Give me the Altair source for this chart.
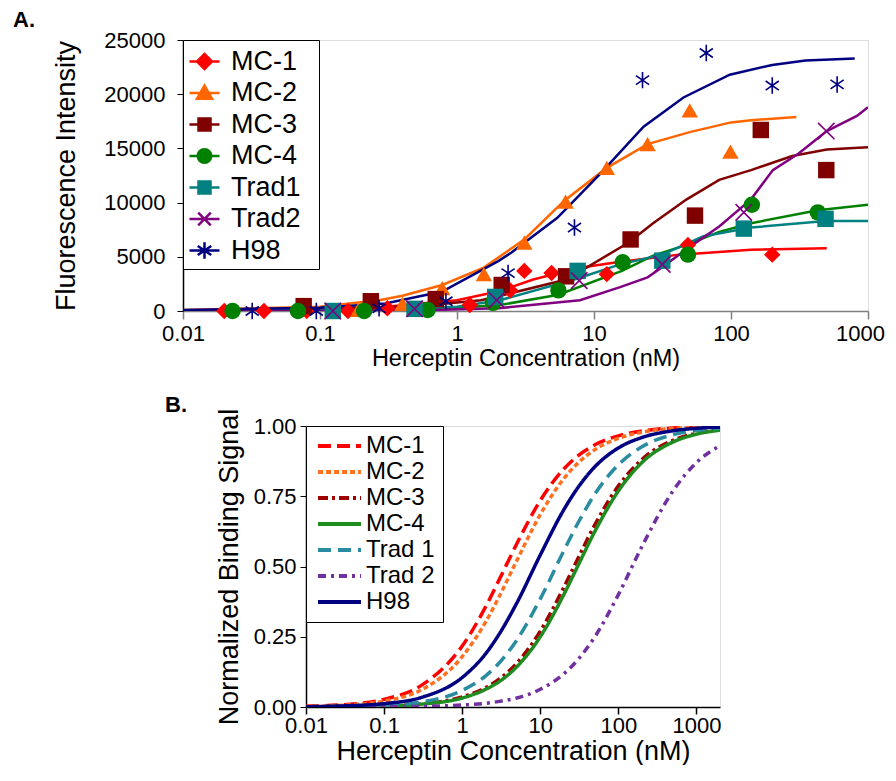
import altair as alt
import pandas as pd

FONT = "Liberation Sans"

# ---------------- Panel A data ----------------
series_a = ["MC-1", "MC-2", "MC-3", "MC-4", "Trad1", "Trad2", "H98"]
colors_a = ["#FF0000", "#FF6600", "#800000", "#008000", "#008080", "#800080", "#000080"]

mc1_x = [0.02, 0.039, 0.08, 0.16, 0.31, 1.24, 2.45, 3.1, 4.9, 12.4, 48.5, 200]
mc1_y = [0, 0, 0, 0, 250, 550, 1900, 3700, 3500, 3400, 6100, 5200]
mc2_x = [0.19, 0.40, 0.78, 1.57, 3.1, 6.2, 12.4, 24.6, 50, 99]
mc2_y = [100, 650, 2100, 3400, 6300, 10100, 13200, 15400, 18500, 14700]
mc3_x = [0.076, 0.235, 0.70, 2.12, 6.25, 18.5, 54.6, 165, 496]
mc3_y = [450, 900, 1100, 2400, 3200, 6600, 8800, 16700, 13000]
mc4_x = [0.023, 0.069, 0.21, 0.61, 1.83, 5.5, 16.2, 48.5, 142, 430]
mc4_y = [0, 0, 0, 100, 750, 1900, 4500, 5200, 9800, 9100]
t1_x = [0.124, 0.49, 1.9, 7.6, 31.5, 124, 490]
t1_y = [0, 200, 1300, 3700, 4650, 7600, 8500]
t2_x = [0.124, 0.49, 1.95, 7.8, 31.5, 124, 496]
t2_y = [0, 200, 1000, 2800, 4300, 9100, 16600]
h98_x = [0.032, 0.094, 0.27, 0.83, 2.36, 7.2, 22.6, 66, 200, 595]
h98_y = [0, 0, 250, 900, 3500, 7700, 21300, 23800, 20800, 20900]

# fitted curves of panel A
mc1_fx = [0.01, 0.1, 0.3, 1, 2.06, 3.6, 7.9, 14.7, 42, 140, 500]
mc1_fy = [50, 150, 400, 1000, 1850, 2900, 4000, 4500, 5200, 5650, 5800]
mc2_fx = [0.01, 0.1, 0.27, 0.4, 0.78, 1.57, 3.1, 6.1, 12.4, 24.6, 50, 100, 140, 300]
mc2_fy = [100, 400, 1000, 1400, 2400, 4000, 6600, 10200, 13200, 15400, 16500, 17400, 17600, 17900]
mc3_fx = [0.01, 0.1, 0.3, 0.7, 1.5, 2.06, 6.3, 17.8, 27, 47.5, 82, 140, 280, 500, 1000]
mc3_fy = [50, 150, 350, 600, 1000, 1400, 2900, 6300, 8100, 10300, 12100, 13000, 14300, 14900, 15100]
mc4_fx = [0.01, 0.3, 1, 2.06, 5.5, 16, 27, 47.5, 82, 140, 430, 1000]
mc4_fy = [0, 100, 300, 550, 1500, 3700, 5100, 6100, 7300, 8100, 9300, 9800]
t1_fx = [0.01, 0.3, 1, 2.06, 7.6, 15.5, 31.5, 63, 140, 490, 1000]
t1_fy = [0, 100, 400, 1000, 3000, 4300, 5200, 6900, 7700, 8300, 8300]
t2_fx = [0.01, 0.5, 2, 7.9, 15.5, 24.6, 32, 48.5, 82, 140, 202, 310, 500, 830, 1000]
t2_fy = [0, 50, 250, 1000, 2200, 3100, 4100, 5800, 7800, 10300, 13000, 14500, 16600, 18000, 18800]
h98_fx = [0.01, 0.1, 0.3, 0.78, 2, 2.5, 5.4, 11, 23, 45, 98, 200, 350, 800]
h98_fy = [100, 300, 700, 1800, 4600, 5400, 8600, 12600, 17000, 19700, 21800, 22700, 23100, 23300]

# ---------------- Panel B data ----------------
series_b = ["MC-1", "MC-2", "MC-3", "MC-4", "Trad 1", "Trad 2", "H98"]
colors_b = ["#FF0000", "#FF7020", "#A00000", "#1E8C1E", "#2A8CA0", "#7030A0", "#000080"]
dashes_b = [[13, 6], [5, 3], [10, 4, 3, 4], [1, 0], [13, 7], [8, 5, 3, 5], [1, 0]]

conc_b = [0.01, 0.03, 0.1, 0.3, 1, 2, 3, 5, 10, 20, 30, 50, 100, 200, 500, 1000, 2000]
b_mc1 = [0.003, 0.008, 0.027, 0.077, 0.217, 0.357, 0.455, 0.581, 0.735, 0.847, 0.893, 0.933, 0.965, 0.982, 0.993, 0.996, 0.998]
b_mc2 = [0.002, 0.006, 0.021, 0.061, 0.179, 0.303, 0.395, 0.521, 0.685, 0.813, 0.867, 0.916, 0.956, 0.978, 0.991, 0.995, 0.998]
b_mc3 = [0.000, 0.001, 0.004, 0.011, 0.036, 0.069, 0.100, 0.156, 0.270, 0.426, 0.526, 0.649, 0.787, 0.881, 0.949, 0.974, 0.987]
b_mc4 = [0.000, 0.001, 0.003, 0.010, 0.032, 0.063, 0.091, 0.143, 0.250, 0.400, 0.500, 0.625, 0.769, 0.870, 0.943, 0.971, 0.985]
b_t1 = [0.001, 0.002, 0.006, 0.018, 0.059, 0.111, 0.158, 0.238, 0.385, 0.556, 0.652, 0.758, 0.862, 0.926, 0.969, 0.984, 0.992]
b_t2 = [0.000, 0.000, 0.001, 0.002, 0.007, 0.013, 0.020, 0.032, 0.063, 0.118, 0.167, 0.250, 0.400, 0.571, 0.769, 0.870, 0.930]
b_h98 = [0.001, 0.004, 0.012, 0.034, 0.105, 0.190, 0.261, 0.370, 0.541, 0.702, 0.779, 0.855, 0.922, 0.959, 0.983, 0.992, 0.996]

ticks_x = [0.01, 0.1, 1, 10, 100, 1000]
panel_labels = ["A.", "B."]

# ---------------- tables ----------------
pts = [(mc1_x, mc1_y), (mc2_x, mc2_y), (mc3_x, mc3_y), (mc4_x, mc4_y),
       (t1_x, t1_y), (t2_x, t2_y), (h98_x, h98_y)]
fits = [(mc1_fx, mc1_fy), (mc2_fx, mc2_fy), (mc3_fx, mc3_fy), (mc4_fx, mc4_fy),
        (t1_fx, t1_fy), (t2_fx, t2_fy), (h98_fx, h98_fy)]
rows_p, rows_f = [], []
for s, (xs, ys) in zip(series_a, pts):
    rows_p += [{"conc": x, "val": y, "series": s} for x, y in zip(xs, ys)]
for s, (xs, ys) in zip(series_a, fits):
    rows_f += [{"conc": x, "val": y, "series": s} for x, y in zip(xs, ys)]
df_p = pd.DataFrame(rows_p)
df_f = pd.DataFrame(rows_f)

rows_b = []
for s, ys in zip(series_b, [b_mc1, b_mc2, b_mc3, b_mc4, b_t1, b_t2, b_h98]):
    rows_b += [{"conc": x, "sig": y, "sb": s} for x, y in zip(conc_b, ys)]
df_b = pd.DataFrame(rows_b)

# ---------------- shapes ----------------
X_PATH = "M-1,-1L1,1M-1,1L1,-1"
AST_PATH = "M0,-1V1M-0.8,-0.55L0.8,0.55M-0.8,0.55L0.8,-0.55"
shapes_a = ["diamond", "triangle-up", "square", "circle", "square", X_PATH, AST_PATH]
# legend symbols: a short line with the marker on it
leg_paths = [
    "M-1,0H1M0,-0.5L0.5,0L0,0.5L-0.5,0Z",
    "M-1,0H1M0,-0.5L0.5,0.38L-0.5,0.38Z",
    "M-1,0H1M-0.4,-0.4H0.4V0.4H-0.4Z",
    "M-1,0H1M0.45,0A0.45,0.45 0 1,1 -0.45,0A0.45,0.45 0 1,1 0.45,0Z",
    "M-1,0H1M-0.4,-0.4H0.4V0.4H-0.4Z",
    "M-1,0H1M-0.42,-0.42L0.42,0.42M-0.42,0.42L0.42,-0.42",
    "M-1,0H1M0,-0.55V0.55M-0.45,-0.3L0.45,0.3M-0.45,0.3L0.45,-0.3",
]


def build(cond_offset):
    extra = {}
    if cond_offset:
        extra["labelOffset"] = {"condition": {"test": "datum.value >= 1000", "value": -8}, "value": 0}
    xA = alt.X("conc:Q", scale=alt.Scale(type="log", domain=[0.01, 1000]),
               axis=alt.Axis(title="Herceptin Concentration (nM)", values=ticks_x,
                             labelExpr="format(datum.value, '~g')", grid=False,
                             tickSize=8, tickColor="#808080", domainColor="#808080",
                             domainWidth=1.5, tickWidth=1.5, labelFontSize=22, labelFont=FONT,
                             labelColor="black", labelPadding=4, titleFontSize=23.5,
                             titleFont=FONT, titleFontWeight="normal", titleColor="black",
                             titlePadding=2, labelFlush=False, labelOverlap=False, **extra))
    yA = alt.Y("val:Q", scale=alt.Scale(domain=[0, 25000], nice=False),
               axis=alt.Axis(title="Fluorescence Intensity", values=[0, 5000, 10000, 15000, 20000, 25000],
                             format="d", grid=False, tickSize=6, tickColor="black",
                             domainColor="black", domainWidth=1.5, labelFontSize=22,
                             labelFont=FONT, labelColor="black", labelPadding=12,
                             titleFontSize=27, titleFont=FONT, titleFontWeight="normal",
                             titleColor="black", titlePadding=23))
    legA = alt.Legend(title="x", titleOrient="right", titleColor="transparent", titleFontSize=22,
                      titlePadding=0, orient="top-left", offset=0, padding=5, strokeColor="black",
                      fillColor="white", labelFontSize=27, labelFont=FONT, labelColor="black",
                      symbolSize=900, rowPadding=1.5, labelOffset=10, symbolStrokeWidth=2.5)

    colA = alt.Color("series:N", scale=alt.Scale(domain=series_a, range=colors_a), legend=None)
    shpA = alt.Shape("series:N", scale=alt.Scale(domain=series_a, range=shapes_a), legend=None)

    lines = alt.Chart(df_f).mark_line(strokeWidth=2.5, clip=True).encode(
        x=xA, y=yA, color=colA, detail="series:N")
    filled = alt.Chart(df_p).transform_filter(
        alt.FieldOneOfPredicate(field="series", oneOf=series_a[:5])
    ).mark_point(filled=True, size=270, opacity=1).encode(x=xA, y=yA, color=colA, shape=shpA)
    stroked = alt.Chart(df_p).transform_filter(
        alt.FieldOneOfPredicate(field="series", oneOf=series_a[5:])
    ).mark_point(filled=False, size=270, opacity=1, strokeWidth=1.6).encode(x=xA, y=yA, color=colA, shape=shpA)
    # legend-only layer (no rows drawn): line + marker symbols
    legend_layer = alt.Chart(df_p).transform_filter("false").mark_point(
        filled=True, strokeWidth=2.5, opacity=1, size=900
    ).encode(
        x=xA, y=yA,
        color=alt.Color("series:N", scale=alt.Scale(domain=series_a, range=colors_a), legend=legA),
        shape=alt.Shape("series:N", scale=alt.Scale(domain=series_a, range=leg_paths), legend=legA),
        stroke=alt.Stroke("series:N", scale=alt.Scale(domain=series_a, range=colors_a), legend=legA),
    )
    textA = alt.Chart(pd.DataFrame({"t": [panel_labels[0]]})).mark_text(
        align="left", baseline="middle", fontSize=22, fontWeight="bold", font=FONT, color="black"
    ).encode(x=alt.value(-170), y=alt.value(-20), text="t:N")

    chartA = alt.layer(lines, filled, stroked, legend_layer, textA).resolve_scale(
        color="independent", shape="independent", stroke="independent"
    ).resolve_legend(
        color="independent", shape="independent", stroke="independent"
    ).properties(width=685, height=271)

    # ---------------- Panel B ----------------
    xB = alt.X("conc:Q", scale=alt.Scale(type="log", domain=[0.01, 2000]),
               axis=alt.Axis(title="Herceptin Concentration (nM)", values=ticks_x,
                             labelExpr="format(datum.value, '~g')", grid=False,
                             tickSize=7, tickColor="black", domainColor="black", domainWidth=1.5,
                             tickWidth=1.5, labelFontSize=22, labelFont=FONT, labelColor="black",
                             labelPadding=1, titleFontSize=27, titleFont=FONT,
                             titleFontWeight="normal", titleColor="black", titlePadding=2,
                             labelFlush=False, labelOverlap=False))
    yB = alt.Y("sig:Q", scale=alt.Scale(domain=[0, 1], nice=False),
               axis=alt.Axis(title="Normalized Binding Signal", values=[0, 0.25, 0.5, 0.75, 1.0],
                             format=".2f", grid=False, tickSize=6, tickColor="black",
                             domainColor="black", domainWidth=1.5, labelFontSize=22,
                             labelFont=FONT, labelColor="black", labelPadding=4,
                             titleFontSize=27, titleFont=FONT, titleFontWeight="normal",
                             titleColor="black", titlePadding=10))
    legB = alt.Legend(title=None, orient="top-left", offset=0, padding=8, strokeColor="black",
                      fillColor="white", labelFontSize=24, labelFont=FONT, labelColor="black",
                      symbolType="M-0.8,0H3.5", symbolSize=400, symbolStrokeWidth=4,
                      rowPadding=2, labelOffset=28)
    chartB = alt.Chart(df_b).mark_line(strokeWidth=3.5, interpolate="monotone", clip=True).encode(
        x=xB, y=yB,
        color=alt.Color("sb:N", scale=alt.Scale(domain=series_b, range=colors_b), legend=legB),
        strokeDash=alt.StrokeDash("sb:N", scale=alt.Scale(domain=series_b, range=dashes_b), legend=legB),
    ).properties(width=414, height=281)

    # narrow blank cell left of panel B carrying the "B." label
    spacerB = alt.Chart(pd.DataFrame({"t": [panel_labels[1]]})).mark_text(
        align="left", baseline="middle", fontSize=22, fontWeight="bold", font=FONT, color="black"
    ).encode(x=alt.value(-18), y=alt.value(-21), text="t:N").properties(
        width=12, height=10, view=alt.ViewBackground(stroke="transparent"))

    rowA = alt.hconcat(chartA).resolve_scale(
        color="independent", shape="independent", stroke="independent"
    ).resolve_legend(color="independent", shape="independent", stroke="independent")
    rowB = alt.hconcat(spacerB, chartB, spacing=18).resolve_scale(
        color="independent", strokeDash="independent"
    ).resolve_legend(color="independent", strokeDash="independent")

    pad_left = 4 if cond_offset else 0
    return alt.vconcat(rowA, rowB, spacing=23).resolve_scale(
        color="independent", shape="independent", stroke="independent", strokeDash="independent"
    ).resolve_legend(
        color="independent", shape="independent", stroke="independent", strokeDash="independent"
    ).properties(
        padding={"left": pad_left, "top": 0, "right": 0, "bottom": 0}
    ).configure_view(stroke="black", strokeWidth=1.5).configure(font=FONT)


try:
    chart = build(True)
    chart.to_dict()
except Exception:
    chart = build(False)

chart.save("out.html", embed_options={"renderer": "svg", "actions": False})
